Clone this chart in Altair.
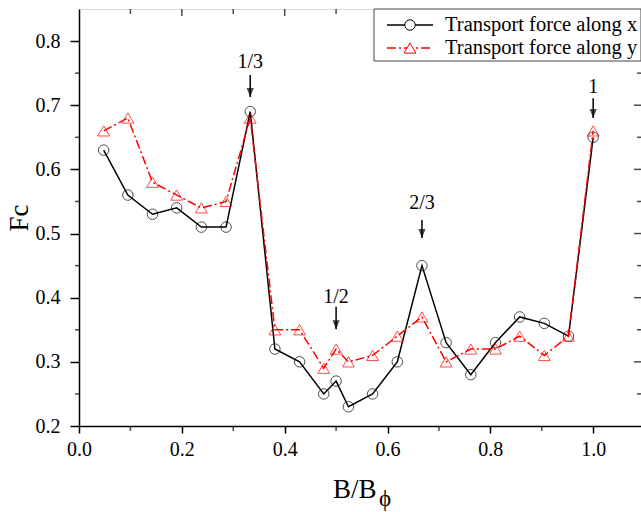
import altair as alt
import pandas as pd

# ---- data ----
b_ratio = [0.048, 0.095, 0.143, 0.190, 0.238, 0.286, 0.333, 0.381, 0.429, 0.476, 0.500,
           0.524, 0.571, 0.619, 0.667, 0.714, 0.762, 0.810, 0.857, 0.905, 0.952, 1.000]
force_x = [0.63, 0.56, 0.53, 0.54, 0.51, 0.51, 0.69, 0.32, 0.30, 0.25, 0.27,
           0.23, 0.25, 0.30, 0.45, 0.33, 0.28, 0.33, 0.37, 0.36, 0.34, 0.65]
force_y = [0.66, 0.68, 0.58, 0.56, 0.54, 0.55, 0.68, 0.35, 0.35, 0.29, 0.32,
           0.30, 0.31, 0.34, 0.37, 0.30, 0.32, 0.32, 0.34, 0.31, 0.34, 0.66]
series_names = ["Transport force along x", "Transport force along y"]

ann_labels = ["1/3", "1/2", "2/3", "1"]
ann_x = [0.333, 0.500, 0.667, 1.000]
ann_text_y = [0.768, 0.401, 0.548, 0.728]
arrow_top = [0.747, 0.386, 0.521, 0.711]
arrow_tip = [0.713, 0.351, 0.493, 0.680]

x_major = [0.0, 0.2, 0.4, 0.6, 0.8, 1.0]
x_minor = [0.1, 0.3, 0.5, 0.7, 0.9]
y_major = [0.2, 0.3, 0.4, 0.5, 0.6, 0.7, 0.8]
y_minor = [0.25, 0.35, 0.45, 0.55, 0.65, 0.75]

FONT = "Liberation Serif"
W, H = 562, 417

df = pd.DataFrame({"B": b_ratio, "Fx": force_x, "Fy": force_y})
ann = pd.DataFrame({"label": ann_labels, "x": ann_x, "ty": ann_text_y,
                    "top": arrow_top, "tip": arrow_tip})

xs = alt.Scale(domain=[0, 1.093], nice=False, zero=False)
ys = alt.Scale(domain=[0.2, 0.85], nice=False, zero=False)

x_axis = alt.Axis(values=x_major, format=".1f", title=None, grid=False,
                  tickSize=7, tickWidth=1.5, domainWidth=1.5, labelPadding=6,
                  labelFlush=False, labelFont=FONT, labelFontSize=20,
                  labelColor="black", tickColor="black", domainColor="black")
y_axis = alt.Axis(values=y_major, format=".1f", title="Fc", grid=False,
                  tickSize=9, tickWidth=1.5, domainWidth=1.5, labelPadding=10,
                  labelFont=FONT, labelFontSize=20, labelColor="black",
                  tickColor="black", domainColor="black",
                  titleFont=FONT, titleFontSize=27, titleFontWeight="normal",
                  titleColor="black", titleX=-60, titleY=H / 2,
                  titleAlign="center", titleBaseline="middle", titleAngle=-90)

base = alt.Chart(df)
line_x = base.mark_line(color="black", strokeWidth=1.5).encode(
    x=alt.X("B:Q", scale=xs, axis=x_axis), y=alt.Y("Fx:Q", scale=ys, axis=y_axis))
pts_x = base.mark_point(shape="circle", filled=False, color="black", size=110,
                        strokeWidth=1).encode(x=alt.X("B:Q", scale=xs), y=alt.Y("Fx:Q", scale=ys))
line_y = base.mark_line(color="#ff0000", strokeWidth=1.5, strokeDash=[9, 3, 2, 3]).encode(
    x=alt.X("B:Q", scale=xs), y=alt.Y("Fy:Q", scale=ys))
pts_y = base.mark_point(shape="triangle-up", filled=False, color="#ff0000", size=140,
                        strokeWidth=1).encode(x=alt.X("B:Q", scale=xs), y=alt.Y("Fy:Q", scale=ys))

# annotations
ann_base = alt.Chart(ann)
ann_text = ann_base.mark_text(font=FONT, fontSize=20, color="black", align="center",
                              baseline="middle").encode(
    x=alt.X("x:Q", scale=xs), y=alt.Y("ty:Q", scale=ys), text="label:N")
ann_shaft = ann_base.mark_rule(color="black", strokeWidth=1.5).encode(
    x=alt.X("x:Q", scale=xs), y=alt.Y("top:Q", scale=ys), y2="tip:Q")
ann_head = ann_base.mark_point(shape="M-0.4,-1L0.4,-1L0,0Z", filled=True, color="black",
                               size=324, strokeWidth=0).encode(
    x=alt.X("x:Q", scale=xs), y=alt.Y("tip:Q", scale=ys))

# minor / mirrored ticks
def tick_layer(vals, channel, pos, length):
    d = pd.DataFrame({"v": vals})
    if channel == "x":
        return alt.Chart(d).mark_tick(color="black", thickness=1.5, size=length).encode(
            x=alt.X("v:Q", scale=xs), y=alt.value(pos))
    return alt.Chart(d).mark_tick(color="black", thickness=1.5, size=length).encode(
        y=alt.Y("v:Q", scale=ys), x=alt.value(pos))

ticks = [
    tick_layer(x_minor, "x", H + 2.5, 5),          # bottom minor (outward)
    tick_layer(x_major[1:], "x", 3.5, 7),          # top major (inward)
    tick_layer(x_minor, "x", 2.5, 5),              # top minor (inward)
    tick_layer(y_minor, "y", -2, 4),               # left minor (outward)
    tick_layer(y_major[1:], "y", W - 3.5, 7),      # right major (inward)
    tick_layer(y_minor, "y", W - 2, 4),            # right minor (inward)
]

# x-axis title with subscript
xt_main = alt.Chart(pd.DataFrame({"t": ["B/B"]})).mark_text(
    font=FONT, fontSize=27, color="black", align="left", baseline="alphabetic").encode(
    x=alt.value(254), y=alt.value(489), text="t:N")
xt_sub = alt.Chart(pd.DataFrame({"t": ["\u03d5"]})).mark_text(
    font=FONT, fontSize=23, color="black", align="left", baseline="alphabetic").encode(
    x=alt.value(300), y=alt.value(497), text="t:N")

# legend (drawn manually)
leg_box = alt.Chart(pd.DataFrame({"a": [0]})).mark_rect(
    fill="white", stroke="#444444", strokeWidth=1).encode(
    x=alt.value(295), x2=alt.value(W), y=alt.value(0), y2=alt.value(52))
leg_r1 = alt.Chart(pd.DataFrame({"a": [0]})).mark_rule(color="black", strokeWidth=1.5).encode(
    x=alt.value(308), x2=alt.value(354), y=alt.value(16))
leg_p1 = alt.Chart(pd.DataFrame({"a": [0]})).mark_point(
    shape="circle", filled=True, fill="white", stroke="black", size=110, strokeWidth=1,
    opacity=1).encode(x=alt.value(331), y=alt.value(16))
leg_r2 = alt.Chart(pd.DataFrame({"a": [0]})).mark_rule(
    color="#ff0000", strokeWidth=1.5, strokeDash=[9, 3, 2, 3]).encode(
    x=alt.value(308), x2=alt.value(354), y=alt.value(39))
leg_p2 = alt.Chart(pd.DataFrame({"a": [0]})).mark_point(
    shape="triangle-up", filled=True, fill="white", stroke="#ff0000", size=140, strokeWidth=1,
    opacity=1).encode(x=alt.value(331), y=alt.value(39))
leg_text = alt.Chart(pd.DataFrame({"t": series_names, "yy": [16, 39]})).mark_text(
    font=FONT, fontSize=20.5, color="black", align="left", baseline="middle").encode(
    x=alt.value(366), y=alt.Y("yy:Q", scale=None), text="t:N")

chart = alt.layer(
    line_x, pts_x, line_y, pts_y, ann_shaft, ann_head, ann_text, *ticks,
    xt_main, xt_sub, leg_box, leg_r1, leg_p1, leg_r2, leg_p2, leg_text
).properties(
    width=W, height=H,
    autosize=alt.AutoSizeParams(type="none"),
    padding={"left": 79, "top": 9, "right": 0, "bottom": 86},
).configure_view(stroke="black", strokeWidth=1.5).configure(background="white")

chart.save("out.html", embed_options={"renderer": "svg", "actions": False})
